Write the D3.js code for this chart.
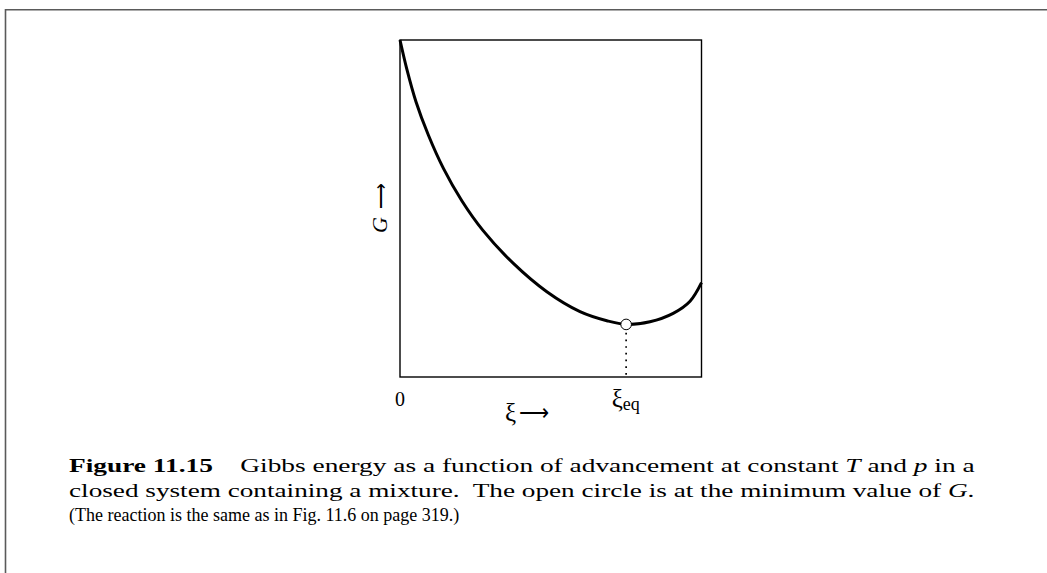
<!DOCTYPE html>
<html>
<head>
<meta charset="utf-8">
<script src="https://cdn.jsdelivr.net/npm/d3@7"></script>
<style>
  html, body { margin: 0; padding: 0; background: #fff; }
  svg { display: block; }
  text { font-family: "Liberation Serif", "Times New Roman", serif; fill: #000; }
</style>
</head>
<body>
<svg id="fig" width="1047" height="573"></svg>
<script>
// Advancement (fraction of full range) and Gibbs energy (relative units)
const xiValues = [0, 0.022, 0.053, 0.094, 0.144, 0.205, 0.275, 0.376, 0.487, 0.597, 0.686, 0.750, 0.829, 0.906, 0.962, 1.000];
const gValues  = [1.000, 0.916, 0.817, 0.718, 0.619, 0.523, 0.435, 0.337, 0.253, 0.194, 0.167, 0.156, 0.164, 0.189, 0.225, 0.280];

// Equilibrium point: minimum of G
const xiEq = 0.750;
const gMin = 0.156;

// Tick labels on the advancement axis
const tickValues = [0, xiEq];
const tickLabels = [{main: "0", sub: ""}, {main: "ξ", sub: "eq"}];

// Caption lines
const captionLines = [
  [{t: "Figure 11.15", w: "bold"}, {t: "\u2003Gibbs energy as a function of advancement at constant "}, {t: "T", s: "italic"}, {t: " and "}, {t: "p", s: "italic"}, {t: " in a"}],
  [{t: "closed system containing a mixture.  The open circle is at the minimum value of "}, {t: "G", s: "italic"}, {t: "."}],
  [{t: "(The reaction is the same as in Fig. 11.6 on page 319.)"}]
];

const svg = d3.select("#fig");

// page frame (top and left rules)
svg.append("path")
  .attr("d", "M5.5,573 V9.8 H1047")
  .attr("fill", "none")
  .attr("stroke", "#5a5a5a")
  .attr("stroke-width", 1.6);

const x = d3.scaleLinear().domain([0, 1]).range([400, 701.5]);
const y = d3.scaleLinear().domain([0, 1]).range([377, 40]);

// plot box
svg.append("rect")
  .attr("x", x(0)).attr("y", y(1))
  .attr("width", x(1) - x(0)).attr("height", y(0) - y(1))
  .attr("fill", "none").attr("stroke", "#000").attr("stroke-width", 1.4);

const pts = xiValues.map((v, i) => [v, gValues[i]]);
const line = d3.line()
  .x(d => x(d[0])).y(d => y(d[1]))
  .curve(d3.curveCatmullRom.alpha(0.5));

svg.append("path")
  .datum(pts)
  .attr("d", line)
  .attr("fill", "none")
  .attr("stroke", "#000")
  .attr("stroke-width", 3)
  .attr("stroke-linecap", "butt");

// dotted drop line from the minimum to the axis
const r = 5.3;
svg.append("line")
  .attr("x1", x(xiEq)).attr("x2", x(xiEq))
  .attr("y1", y(gMin) + r + 3).attr("y2", y(0))
  .attr("stroke", "#000")
  .attr("stroke-width", 1.7)
  .attr("stroke-dasharray", "1.7 5");

svg.append("circle")
  .attr("cx", x(xiEq)).attr("cy", y(gMin)).attr("r", r)
  .attr("fill", "#fff").attr("stroke", "#000").attr("stroke-width", 1);

// tick labels
tickValues.forEach((v, i) => {
  const lab = tickLabels[i];
  const t = svg.append("text")
    .attr("y", 406)
    .attr("font-size", 20);
  if (lab.sub) {
    t.attr("x", x(v) - 14.5);
    t.append("tspan").attr("font-size", 25).attr("dy", 1).text(lab.main);
    t.append("tspan").attr("font-size", 18).attr("dy", 3).text(lab.sub);
  } else {
    t.attr("x", x(v)).attr("text-anchor", "middle").text(lab.main);
  }
});

// axis titles
const xt = svg.append("text")
  .attr("x", 505).attr("y", 421)
  .attr("font-size", 25);
xt.append("tspan").text("ξ");
xt.append("tspan").attr("dx", 3).attr("font-size", 21).attr("dy", -1).text("\u27F6");

svg.append("text")
  .attr("transform", "translate(387,208) rotate(-90)")
  .attr("text-anchor", "middle")
  .attr("font-size", 22)
  .html('<tspan font-style="italic">G</tspan><tspan dx="8" font-size="18">\u27F6</tspan>');

// caption: lines 1-2 stretched over the full text width, last line at natural width
const capLeft = 69, capRight = 975;
const baselines = [472, 496.5, 521];
captionLines.forEach((parts, li) => {
  const t = svg.append("text")
    .attr("x", 0).attr("y", 0)
    .attr("font-size", 18)
    .style("white-space", "pre");
  parts.forEach(p => {
    const s = t.append("tspan").text(p.t);
    if (p.w) s.attr("font-weight", p.w);
    if (p.s) s.attr("font-style", p.s);
  });
  const k = li < 2 ? (capRight - capLeft) / t.node().getComputedTextLength() : 1;
  t.attr("transform", `translate(${capLeft},${baselines[li]}) scale(${k},1)`);
});
</script>
</body>
</html>
